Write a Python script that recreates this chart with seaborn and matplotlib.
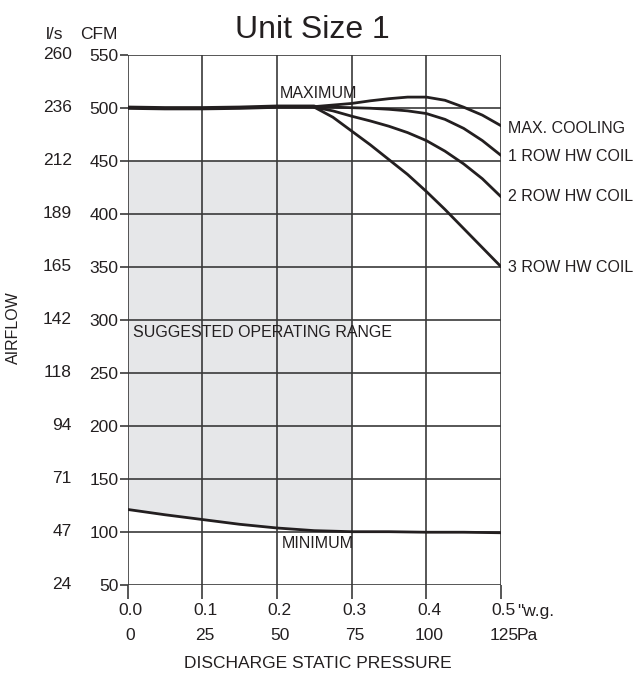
import matplotlib
matplotlib.use("Agg")
import matplotlib.pyplot as plt
import matplotlib.transforms as mtransforms
import numpy as np
import pandas as pd
import seaborn as sns

# Data, pressure in "w.g., airflow in CFM
common_x = [0.0, 0.05, 0.1, 0.15, 0.2, 0.25]
common_cfm = [500, 499.5, 499.5, 500, 501, 501]

branch_x = [0.25, 0.275, 0.3, 0.325, 0.35, 0.375, 0.4, 0.425, 0.45, 0.475, 0.5]
max_cooling = [501, 502.5, 504, 506.5, 508.5, 510, 510, 507, 500.5, 493, 483]
row1_hw = [501, 500.5, 500, 499.5, 498.5, 497, 494.5, 489, 480.5, 469, 455]
row2_hw = [500.5, 497, 492, 487.5, 482.5, 476.5, 469, 459, 447, 433, 416]
row3_hw = [500.5, 491, 478, 465, 451, 437, 421, 404, 386, 368, 350]

min_x = [0.0, 0.05, 0.1, 0.15, 0.2, 0.25, 0.3, 0.35, 0.4, 0.45, 0.5]
min_cfm = [121, 116, 111.5, 107, 103.5, 101, 100, 100, 99.5, 99.5, 99]

curve_labels = ['MAX. COOLING', '1 ROW HW COIL', '2 ROW HW COIL', '3 ROW HW COIL']
label_cfm = [480, 454, 416, 349]

x_ticks = [0.0, 0.1, 0.2, 0.3, 0.4, 0.5]
x_ticklabels = ['0.0', '0.1', '0.2', '0.3', '0.4', '0.5']
pa_labels = ['0', '25', '50', '75', '100', '125']
cfm_ticks = [50, 100, 150, 200, 250, 300, 350, 400, 450, 500, 550]
ls_labels = ['24', '47', '71', '94', '118', '142', '165', '189', '212', '236', '260']

range_top = 450
range_right = 0.3

sns.set_theme(style="white")
plt.rcParams['font.family'] = ['Liberation Sans', 'DejaVu Sans']

ink = '#231f20'
grid_col = '#3a3a3a'

fig = plt.figure(figsize=(6.34, 6.73), dpi=100)
ax = fig.add_axes([127.5 / 634, 1 - 584.7 / 673, 373.5 / 634, 530 / 673])

# Suggested operating range (shaded)
rx = [x for x in min_x if x <= range_right]
ry = min_cfm[:len(rx)]
ax.fill_between(rx, ry, range_top, color='#e6e7e9', lw=0, zorder=0)

# Grid
for x in x_ticks:
    ax.axvline(x, color=grid_col, lw=1.2, zorder=1)
for y in cfm_ticks:
    ax.axhline(y, color=grid_col, lw=1.2, zorder=1)

# Curves
sns.lineplot(x=common_x, y=common_cfm, ax=ax, color=ink, lw=3.0, zorder=3)
for vals in [max_cooling, row1_hw, row2_hw, row3_hw]:
    df = pd.DataFrame({'x': branch_x, 'cfm': vals})
    sns.lineplot(x='x', y='cfm', data=df, ax=ax, color=ink, lw=2.0, zorder=3)
sns.lineplot(x=min_x, y=min_cfm, ax=ax, color=ink, lw=2.0, zorder=3)

ax.set_xlim(0, 0.5)
ax.set_ylim(50, 550)
for s in ax.spines.values():
    s.set_visible(False)

ax.set_xticks(x_ticks)
ax.set_xticklabels(x_ticklabels, fontsize=12.5, color=ink)
ax.set_yticks(cfm_ticks)
ax.set_yticklabels([str(v) for v in cfm_ticks], fontsize=12.5, color=ink)
ax.tick_params(axis='x', bottom=True, length=10, width=1.2, color=grid_col, pad=3.5, direction='out')
ax.tick_params(axis='y', left=True, length=6, width=1.2, color=grid_col, pad=0.5, direction='out')
ax.set_xlabel('')
ax.set_ylabel('')
shift = mtransforms.ScaledTranslation(3 / 100, 0, fig.dpi_scale_trans)
for lab in ax.get_xticklabels():
    lab.set_transform(lab.get_transform() + shift)

# Second tick rows (l/s and Pa)
ty = mtransforms.blended_transform_factory(ax.transAxes, ax.transData)
for v, lab in zip(cfm_ticks, ls_labels):
    ax.text(-0.149, v, lab, transform=ty, ha='right', va='center', fontsize=12.5, color=ink)
tx = mtransforms.blended_transform_factory(ax.transData, ax.transAxes)
for v, lab in zip(x_ticks, pa_labels):
    ax.text(v + 0.004, -0.096, lab, transform=tx, ha='center', va='center', fontsize=12.5, color=ink)
ax.text(0.5215, -0.0515, '"w.g.', transform=tx, ha='left', va='center', fontsize=12.5, color=ink)
ax.text(0.5215, -0.096, 'Pa', transform=tx, ha='left', va='center', fontsize=12.5, color=ink)

ax.text(-0.195, 1.0377, 'l/s', transform=ax.transAxes, ha='center', va='center', fontsize=12.5, color=ink)
ax.text(-0.077, 1.0377, 'CFM', transform=ax.transAxes, ha='center', va='center', fontsize=12.5, color=ink)

# Annotations
for lab, y in zip(curve_labels, label_cfm):
    ax.text(0.5094, y, lab, ha='left', va='center', fontsize=11.5, color=ink, clip_on=False)
ax.text(0.2044, 513.5, 'MAXIMUM', ha='left', va='center', fontsize=11.5, color=ink)
ax.text(0.2067, 89, 'MINIMUM', ha='left', va='center', fontsize=11.5, color=ink)
ax.text(0.0075, 287.5, 'SUGGESTED OPERATING RANGE', ha='left', va='center', fontsize=11.5, color=ink)

ax.text(-0.3066, 0.485, 'AIRFLOW', transform=ax.transAxes, rotation=90,
        ha='center', va='center', fontsize=11.5, color=ink)
ax.text(0.5087, -0.149, 'DISCHARGE STATIC PRESSURE', transform=ax.transAxes,
        ha='center', va='center', fontsize=12.5, color=ink)
ax.text(0.494, 1.047, 'Unit Size 1', transform=ax.transAxes,
        ha='center', va='center', fontsize=23, color=ink)

fig.savefig('out.png', dpi=100)
